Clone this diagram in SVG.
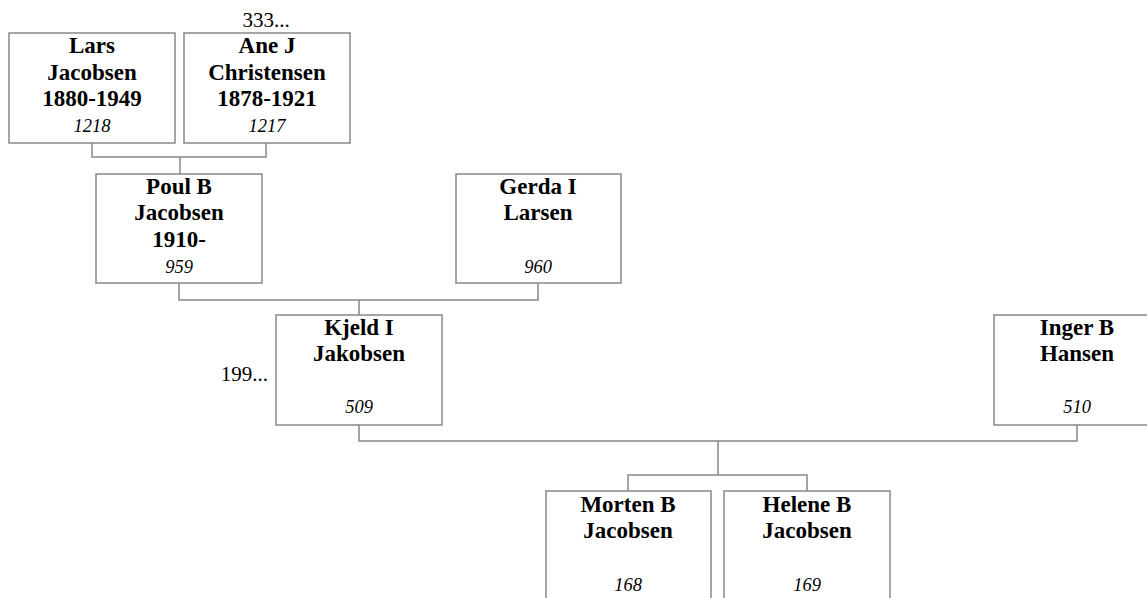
<svg xmlns="http://www.w3.org/2000/svg" width="1147" height="598" viewBox="0 0 1147 598">
<style>
.b{fill:#fff;stroke:#888;stroke-width:1.5}
.c path{fill:none;stroke:#888;stroke-width:1.5}
text{font-family:"Liberation Serif","Times New Roman",serif;text-anchor:middle;fill:#000}
.n{font-weight:bold;font-size:23px}
.i{font-style:italic;font-size:18.5px}
.o{font-size:21px}
</style>
<rect width="1147" height="598" fill="#fff"/>
<g class="c">
<path d="M92,143V157H266V143M180,157V174"/>
<path d="M179,283V300H538V283M359,300V315"/>
<path d="M359,425V441H1077V425M718,441V475M628,491V475H807V491"/>
</g>
<g id="n1218"><rect class="b" x="9" y="33" width="166" height="110"/><text class="n" x="92" y="53">Lars</text><text class="n" x="92" y="80">Jacobsen</text><text class="n" x="92" y="106">1880-1949</text><text class="i" x="92" y="132">1218</text></g>
<g id="n1217"><text class="o" x="266" y="27">333...</text><rect class="b" x="184" y="33" width="166" height="110"/><text class="n" x="267" y="53">Ane J</text><text class="n" x="267" y="80">Christensen</text><text class="n" x="267" y="106">1878-1921</text><text class="i" x="267" y="132">1217</text></g>
<g id="n959"><rect class="b" x="96" y="174" width="166" height="109"/><text class="n" x="179" y="194">Poul B</text><text class="n" x="179" y="220">Jacobsen</text><text class="n" x="179" y="247">1910-</text><text class="i" x="179" y="273">959</text></g>
<g id="n960"><rect class="b" x="456" y="174" width="165" height="109"/><text class="n" x="538" y="194">Gerda I</text><text class="n" x="538" y="220">Larsen</text><text class="i" x="538" y="273">960</text></g>
<g id="n509"><text class="o" x="268" y="381" style="text-anchor:end">199...</text><rect class="b" x="276" y="315" width="166" height="110"/><text class="n" x="359" y="335">Kjeld I</text><text class="n" x="359" y="361">Jakobsen</text><text class="i" x="359" y="413">509</text></g>
<g id="n510"><rect class="b" x="994" y="315" width="166" height="110"/><text class="n" x="1077" y="335">Inger B</text><text class="n" x="1077" y="361">Hansen</text><text class="i" x="1077" y="413">510</text></g>
<g id="n168"><rect class="b" x="546" y="491" width="165" height="120"/><text class="n" x="628" y="512">Morten B</text><text class="n" x="628" y="538">Jacobsen</text><text class="i" x="628" y="591">168</text></g>
<g id="n169"><rect class="b" x="724" y="491" width="166" height="120"/><text class="n" x="807" y="512">Helene B</text><text class="n" x="807" y="538">Jacobsen</text><text class="i" x="807" y="591">169</text></g>
</svg>
